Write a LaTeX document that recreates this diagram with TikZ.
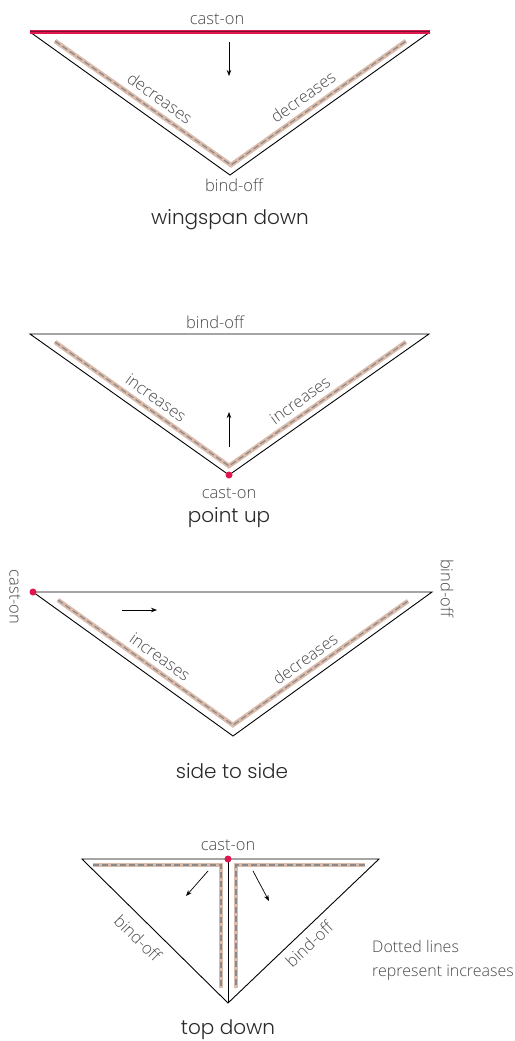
\documentclass[tikz,border=0pt]{standalone}
\usepackage{fontspec}
\setmainfont{Open Sans}[UprightFont={* Light}]
\newfontfamily\titlefont{Poppins}[UprightFont={* Light}]
\usetikzlibrary{arrows.meta}
\definecolor{redc}{HTML}{E0164E}
\definecolor{darkred}{HTML}{7A1030}
\definecolor{tanc}{HTML}{DDBBAA}
\definecolor{dashc}{HTML}{8A8A8A}
\definecolor{labc}{HTML}{4A4A4A}
\definecolor{ttlc}{HTML}{2A2A2A}
\tikzset{
  edge/.style={draw=black, line width=0.9pt, line join=miter},
  band/.style={draw=tanc, line width=4.6pt, line join=miter},
  dashl/.style={draw=dashc, line width=1.2pt, dash pattern=on 6pt off 3pt, line join=miter},
  lbl/.style={text=labc, font=\fontsize{16.5}{19}\selectfont, inner sep=0pt},
  ttl/.style={text=ttlc, font=\titlefont\fontsize{20}{23}\selectfont, inner sep=0pt},
  arr/.style={draw=black, line width=0.7pt, -{Stealth[length=6pt,width=4.5pt]}},
  dot/.style={circle, fill=redc, minimum size=7pt, inner sep=0pt}
}
\begin{document}
\begin{tikzpicture}[x=1pt,y=-1pt]
\useasboundingbox[fill=white] (0,0) rectangle (514,1041);

% ---------- 1: wingspan down ----------
\coordinate (a1) at (30,32);
\coordinate (b1) at (430,32);
\coordinate (c1) at (230,175);
\coordinate (ba1) at (55,41);
\coordinate (bb1) at (231,165);
\coordinate (bc1) at (406,41);
\draw[band] (ba1) -- (bb1) -- (bc1);
\draw[dashl] (ba1) -- (bb1) -- (bc1);
\draw[edge] (a1) -- (c1) -- (b1);
\draw[draw=redc, line width=4pt] (a1) -- (b1);
\draw[draw=darkred, line width=1pt] (a1) -- (b1);
\node[lbl] (co1) at (217,19) {cast-on};
\node[lbl] (bo1) at (234,185) {bind-off};
\coordinate (ar1s) at (229,42);
\coordinate (ar1e) at (229,76);
\draw[arr] (ar1s) -- (ar1e);
\node[lbl, rotate=-35.6] (d1l) at (160,98) {decreases};
\node[lbl, rotate=35.6] (d1r) at (303,97) {decreases};
\node[ttl] (t1) at (230,220) {wingspan down};

% ---------- 2: point up ----------
\coordinate (a2) at (30,334);
\coordinate (b2) at (429,334);
\coordinate (c2) at (229,475);
\coordinate (ba2) at (55,342);
\coordinate (bb2) at (229,466);
\coordinate (bc2) at (406,342);
\draw[band] (ba2) -- (bb2) -- (bc2);
\draw[dashl] (ba2) -- (bb2) -- (bc2);
\draw[edge] (a2) -- (b2) -- (c2) -- cycle;
\node[dot] (p2) at (c2) {};
\node[lbl] (bo2) at (215,322) {bind-off};
\node[lbl] (co2) at (229,493) {cast-on};
\coordinate (ar2s) at (229,447);
\coordinate (ar2e) at (229,412);
\draw[arr] (ar2s) -- (ar2e);
\node[lbl, rotate=-35.6] (i2l) at (156,398) {increases};
\node[lbl, rotate=35.6] (i2r) at (300,400) {increases};
\node[ttl] (t2) at (229,518) {point up};

% ---------- 3: side to side ----------
\coordinate (a3) at (33,592);
\coordinate (b3) at (432,592);
\coordinate (c3) at (233,736);
\coordinate (ba3) at (58,600);
\coordinate (bb3) at (233,725);
\coordinate (bc3) at (408,601);
\draw[band] (ba3) -- (bb3) -- (bc3);
\draw[dashl] (ba3) -- (bb3) -- (bc3);
\draw[edge] (a3) -- (b3) -- (c3) -- cycle;
\node[dot] (p3) at (a3) {};
\node[lbl, rotate=-90] (co3) at (15,597) {cast-on};
\node[lbl, rotate=-90] (bo3) at (447,588) {bind-off};
\coordinate (ar3s) at (122,610);
\coordinate (ar3e) at (157,610);
\draw[arr] (ar3s) -- (ar3e);
\node[lbl, rotate=-35.6] (i3l) at (160,657) {increases};
\node[lbl, rotate=35.6] (d3r) at (305,659) {decreases};
\node[ttl] (t3) at (232,771) {side to side};

% ---------- 4: top down ----------
\coordinate (a4) at (82,859);
\coordinate (b4) at (379,859);
\coordinate (c4) at (228,1003);
\coordinate (m4) at (228,859);
\coordinate (l1) at (93,865);
\coordinate (l2) at (221,865);
\coordinate (l3) at (221,988);
\coordinate (r1) at (365,865);
\coordinate (r2) at (236,865);
\coordinate (r3) at (236,988);
\draw[band] (l1) -- (l2) -- (l3);
\draw[band] (r1) -- (r2) -- (r3);
\draw[dashl] (l1) -- (l2) -- (l3);
\draw[dashl] (r1) -- (r2) -- (r3);
\draw[edge] (a4) -- (b4) -- (c4) -- cycle;
\draw[edge] (m4) -- (c4);
\node[dot] (p4) at (m4) {};
\node[lbl] (co4) at (228,845) {cast-on};
\coordinate (ar4s) at (208,871);
\coordinate (ar4e) at (186,896);
\draw[arr] (ar4s) -- (ar4e);
\coordinate (ar5s) at (253,871);
\coordinate (ar5e) at (269,901);
\draw[arr] (ar5s) -- (ar5e);
\node[lbl, rotate=-44.5] (bo4l) at (138,938) {bind-off};
\node[lbl, rotate=43.7] (bo4r) at (309,944) {bind-off};
\node[lbl, anchor=west, align=left, font=\fontsize{16}{24}\selectfont] (note) at (372,960) {Dotted lines\\represent increases};
\node[ttl] (t4) at (228,1030) {top down};
\end{tikzpicture}
\end{document}
